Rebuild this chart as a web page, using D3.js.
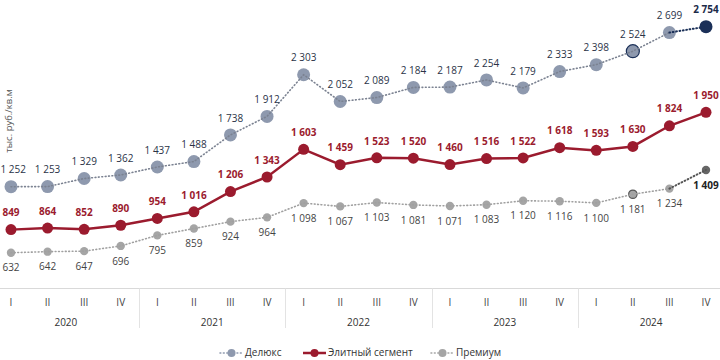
<!DOCTYPE html>
<html><head><meta charset="utf-8">
<script src="https://cdn.jsdelivr.net/npm/d3@7"></script>
<style>html,body{margin:0;padding:0;background:#fff;}svg{display:block;}</style>
</head><body><svg id="c" width="720" height="360" font-family="'Open Sans', 'Noto Sans', sans-serif"></svg>
<script>
const years = ["2020","2021","2022","2023","2024"];
const quarters = ["I","II","III","IV"];
const deluxe = [1252,1253,1329,1362,1437,1488,1738,1912,2303,2052,2089,2184,2187,2254,2179,2333,2398,2524,2699,2754];
const elite = [849,864,852,890,954,1016,1206,1343,1603,1459,1523,1520,1460,1516,1522,1618,1593,1630,1824,1950];
const premium = [632,642,647,696,795,859,924,964,1098,1067,1103,1081,1071,1083,1120,1116,1100,1181,1234,1409];
const seriesNames = ["Делюкс","Элитный сегмент","Премиум"];
const yTitle = "тыс. руб./кв.м";

const svg = d3.select("#c");
const cats = [];
years.forEach(y => quarters.forEach(q => cats.push(y + "-" + q)));
const x = d3.scalePoint().domain(cats).range([11, 706]);
const y = d3.scaleLinear().domain([500, 3000]).range([266.8, 0.5]);
const fmt = d3.formatLocale({decimal:",", thousands:"\u00a0", grouping:[3], currency:["",""]}).format(",d");

// axis
const axisY = 288.5;
svg.append("line").attr("x1",0).attr("x2",720).attr("y1",axisY).attr("y2",axisY).attr("stroke","#d9d9d9").attr("stroke-width",1);
const step = x.step();
years.forEach((yr,i)=>{
  if(i>0){
    const sx = Math.round(x(yr+"-I") - step/2)+0.5;
    svg.append("line").attr("x1",sx).attr("x2",sx).attr("y1",axisY).attr("y2",328).attr("stroke","#e3e3e3").attr("stroke-width",1);
  }
  const cx = (x(yr+"-I")+x(yr+"-IV"))/2;
  svg.append("text").attr("x",cx).attr("y",323).attr("text-anchor","middle").attr("dominant-baseline","middle")
    .attr("font-size",10).attr("fill","#333").text(yr);
});
cats.forEach(c=>{
  svg.append("text").attr("x",x(c)).attr("y",303).attr("text-anchor","middle").attr("dominant-baseline","middle")
    .attr("font-size",10).attr("fill","#444").text(c.split("-")[1]);
});

// y title
svg.append("text").attr("transform","translate(9,121) rotate(-90)").attr("text-anchor","middle").attr("dominant-baseline","middle")
  .attr("font-size",9.5).attr("fill","#555").text(yTitle);

const line = d3.line().x((d,i)=>x(cats[i])).y(d=>y(d));
const n = cats.length;
const DOT = "0.8,2.6";

function drawSeries(vals, opt){
  const g = svg.append("g");
  g.selectAll("circle").data(vals).join("circle")
    .attr("cx",(d,i)=>x(cats[i])).attr("cy",d=>y(d)).attr("r",opt.r)
    .attr("fill",(d,i)=> i===n-1 && opt.lastFill ? opt.lastFill : opt.fill)
    .attr("stroke",(d,i)=> opt.outlined===i ? opt.outlineColor : "none")
    .attr("stroke-width",1.2);
  const main = opt.lastLine ? vals.slice(0,n-1) : vals;
  g.append("path").datum(main).attr("d",line).attr("fill","none").attr("stroke",opt.lineColor)
    .attr("stroke-width",opt.lw).attr("stroke-dasharray",opt.dash||null).attr("stroke-linecap",opt.dash?"round":"butt");
  if(opt.lastLine){
    const seg = [[x(cats[n-2]),y(vals[n-2])],[x(cats[n-1]),y(vals[n-1])]];
    g.append("path").attr("d",d3.line()(seg)).attr("fill","none").attr("stroke",opt.lastLine)
      .attr("stroke-width",opt.lw+0.4).attr("stroke-dasharray",DOT).attr("stroke-linecap","round");
  }
  const t = g.selectAll("text").data(vals).join("text")
    .attr("y",(d,i)=>y(d)+opt.dy)
    .attr("text-anchor","middle").attr("dominant-baseline","middle")
    .attr("font-size",10)
    .attr("font-weight",(d,i)=> opt.bold || i===n-1 ? "bold":"normal")
    .attr("fill",(d,i)=> i===n-1 && opt.lastText ? opt.lastText : opt.textColor)
    .text(d=>fmt(d));
  t.each(function(d,i){
    const w = this.getComputedTextLength();
    let cx = x(cats[i]);
    cx = Math.max(cx, w/2 + 0.5);
    cx = Math.min(cx, 720 - w/2 - 1);
    d3.select(this).attr("x",cx);
  });
}

drawSeries(premium,{r:4.2,fill:"#a5a5a5",lastFill:"#666",outlined:17,outlineColor:"#555",lineColor:"#a0a0a0",lw:1.6,dash:DOT,lastLine:"#555",dy:16,textColor:"#444",lastText:"#222"});
drawSeries(deluxe,{r:6.5,fill:"#8e99ae",lastFill:"#1b3058",outlined:17,outlineColor:"#1b3058",lineColor:"#7b8291",lw:1.6,dash:DOT,lastLine:"#1b3058",dy:-16,textColor:"#2a3347",lastText:"#1b2a48"});
drawSeries(elite,{r:5.5,fill:"#9b1b2e",lineColor:"#9b1b2e",lw:2.5,dy:-16,textColor:"#9b1b2e",bold:true});

// legend
const ly = 353;
const lg = svg.append("g");
function legendItem(x0, color, dash, lw, r, txt){
  lg.append("line").attr("x1",x0).attr("x2",x0+23).attr("y1",ly).attr("y2",ly).attr("stroke",color)
    .attr("stroke-width",lw).attr("stroke-dasharray",dash).attr("stroke-linecap",dash?"round":"butt");
  lg.append("circle").attr("cx",x0+11.5).attr("cy",ly).attr("r",r).attr("fill",color);
  lg.append("text").attr("x",x0+25).attr("y",ly).attr("dominant-baseline","middle").attr("font-size",10).attr("fill","#333").text(txt);
}
legendItem(220,"#8e99ae",DOT,1.6,4,seriesNames[0]);
legendItem(303,"#9b1b2e",null,2.5,4,seriesNames[1]);
legendItem(431,"#a5a5a5",DOT,1.6,4,seriesNames[2]);
</script></body></html>
